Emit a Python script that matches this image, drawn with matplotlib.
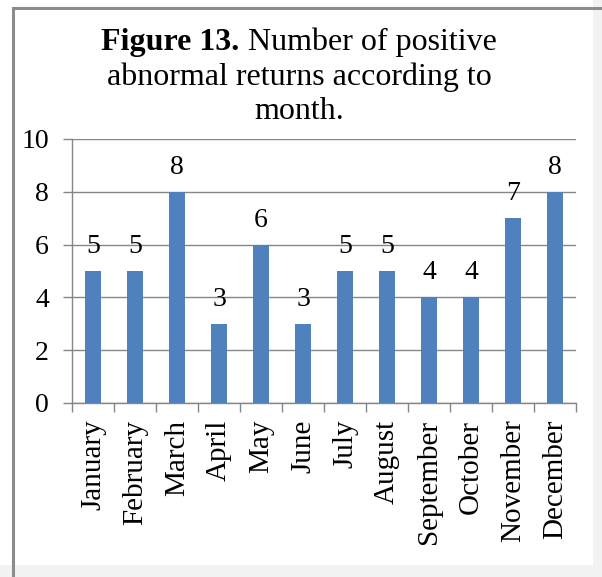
import numpy as np
import matplotlib
matplotlib.use("Agg")
import matplotlib.pyplot as plt
from matplotlib.patches import Rectangle
from matplotlib.lines import Line2D

## values
months = ["January", "February", "March", "April", "May", "June", "July",
          "August", "September", "October", "November", "December"]
counts = [5, 5, 8, 3, 6, 3, 5, 5, 4, 4, 7, 8]
yticks = [0, 2, 4, 6, 8, 10]

plt.rcParams["font.family"] = ["Liberation Serif", "DejaVu Serif"]

W, H = 602, 577
fig = plt.figure(figsize=(W / 100, H / 100), dpi=100)
fig.patch.set_facecolor("white")

## screenshot frame: light shadow right/bottom, grey border top/left
fig.patches.append(Rectangle((593 / W, 0), 1, 1, transform=fig.transFigure,
                             facecolor="#f2f2f2", edgecolor="none", zorder=0))
fig.patches.append(Rectangle((0, 0), 1, 1 - 565 / H, transform=fig.transFigure,
                             facecolor="#f2f2f2", edgecolor="none", zorder=0))
fig.lines.append(Line2D([13 / W, 13 / W], [0, 1 - 8 / H], transform=fig.transFigure,
                        color="#8c8c8c", lw=2.2))
fig.lines.append(Line2D([13 / W, 1], [1 - 8 / H, 1 - 8 / H], transform=fig.transFigure,
                        color="#8c8c8c", lw=2.2))

grey = "#868686"
ax = fig.add_axes([72 / W, 1 - 403 / H, (576 - 72) / W, (403 - 139) / H])
ax.set_facecolor("none")
x = np.arange(len(months))
ax.bar(x, counts, width=0.4, color="#4f81bd", zorder=3)
for xi, v in zip(x, counts):
    ax.annotate(str(v), (xi, v), xytext=(0, 13), textcoords="offset points",
                ha="center", va="baseline", fontsize=20)

ax.set_xlim(-0.5, len(months) - 0.5)
ax.set_ylim(0, 10)
ax.set_yticks(yticks)
ax.set_xticks(x)
ax.set_xticklabels(months, rotation=90, va="top", ha="center")
ax.set_xticks(np.arange(len(months) + 1) - 0.5, minor=True)
ax.tick_params(axis="x", which="major", length=0, pad=12, labelsize=21)
ax.tick_params(axis="x", which="minor", length=6.5, width=1, color=grey)
ax.tick_params(axis="y", length=6.5, width=1, color=grey, pad=10, labelsize=20)
ax.grid(axis="y", color=grey, lw=1, zorder=0)
for s in ["top", "right"]:
    ax.spines[s].set_visible(False)
for s in ["left", "bottom"]:
    ax.spines[s].set_color(grey)
    ax.spines[s].set_linewidth(1)

## title: bold "Figure 13." followed by regular text
cx = 299 / W
t1b = fig.text(0, 1 - 50 / H, "Figure 13.", fontsize=23, fontweight="bold",
               ha="left", va="baseline")
t1r = fig.text(0, 1 - 50 / H, " Number of positive", fontsize=23,
               ha="left", va="baseline")
fig.text(cx, 1 - 85 / H, "abnormal returns according to", fontsize=23,
         ha="center", va="baseline")
fig.text(cx, 1 - 119 / H, "month.", fontsize=23, ha="center", va="baseline")
fig.canvas.draw()
r = fig.canvas.get_renderer()
wb = t1b.get_window_extent(r).width
wr = t1r.get_window_extent(r).width
x0 = cx * W - (wb + wr) / 2
t1b.set_x(x0 / W)
t1r.set_x((x0 + wb) / W)

fig.savefig("out.png", dpi=100)
